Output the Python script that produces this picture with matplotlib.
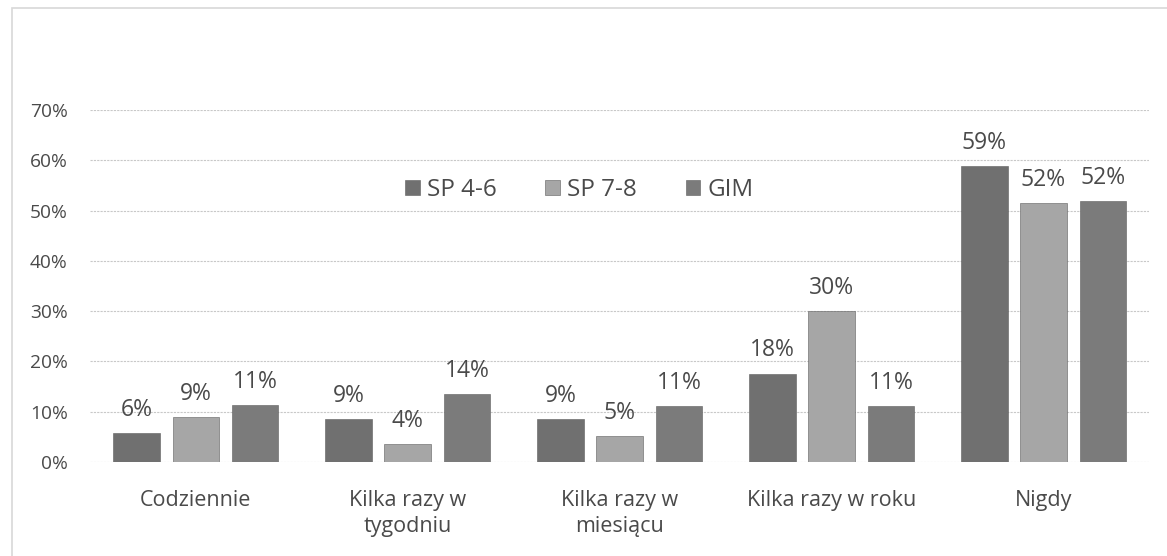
import numpy as np
import matplotlib.pyplot as plt
from matplotlib.patches import Rectangle

categories = ["Codziennie", "Kilka razy w\ntygodniu", "Kilka razy w\nmiesiącu",
              "Kilka razy w roku", "Nigdy"]
series = ["SP 4-6", "SP 7-8", "GIM"]
sp46 = [5.8, 8.6, 8.6, 17.6, 58.8]
sp78 = [8.9, 3.6, 5.2, 30.0, 51.5]
gim = [11.3, 13.6, 11.1, 11.1, 51.9]
colors = ["#707070", "#a6a6a6", "#7b7b7b"]

plt.rcParams['font.family'] = ['Open Sans', 'DejaVu Sans']
text_c = "#4a4a4a"

fig = plt.figure(figsize=(11.67, 5.56), dpi=100)
ax = fig.add_axes([0.077, 0.169, 0.908, 0.633])

x = np.arange(len(categories))
w = 0.22
step = 0.28
for i, (vals, name) in enumerate(zip([sp46, sp78, gim], series)):
    pos = x + (i - 1) * step
    bars = ax.bar(pos, vals, width=w, color=colors[i], edgecolor="#5e5e5e",
                  linewidth=0.4, label=name, zorder=3)
    for p, v in zip(pos, vals):
        ax.text(p, v + 2.2, "{:.0f}%".format(v), ha="center", va="bottom",
                fontsize=16.5, color=text_c)

ax.set_xlim(-0.5, 4.5)
ax.set_ylim(0, 70)
ax.set_yticks(range(0, 71, 10))
ax.set_yticklabels(["{}%".format(t) for t in range(0, 71, 10)])
ax.set_xticks(x)
ax.set_xticklabels(categories, linespacing=1.35)
ax.tick_params(axis="both", length=0, colors=text_c)
ax.tick_params(axis="x", pad=20, labelsize=15.5)
ax.tick_params(axis="y", pad=16, labelsize=13.8)
ax.grid(axis="y", color="#c8c8c8", linestyle=(0, (2, 1)), linewidth=0.8, zorder=0)
for s in ax.spines.values():
    s.set_visible(False)

leg = ax.legend(loc="center", bbox_to_anchor=(0.462, 0.773), ncol=3, frameon=False,
                fontsize=17.5, handlelength=0.6, handleheight=0.6, handletextpad=0.3,
                columnspacing=2.0)
for t in leg.get_texts():
    t.set_color(text_c)

fig.patches.append(Rectangle((0.01, -0.01), 1.0, 0.995, transform=fig.transFigure,
                             fill=False, edgecolor="#d8d8d8", linewidth=1.2))

fig.savefig("out.png", dpi=100)
